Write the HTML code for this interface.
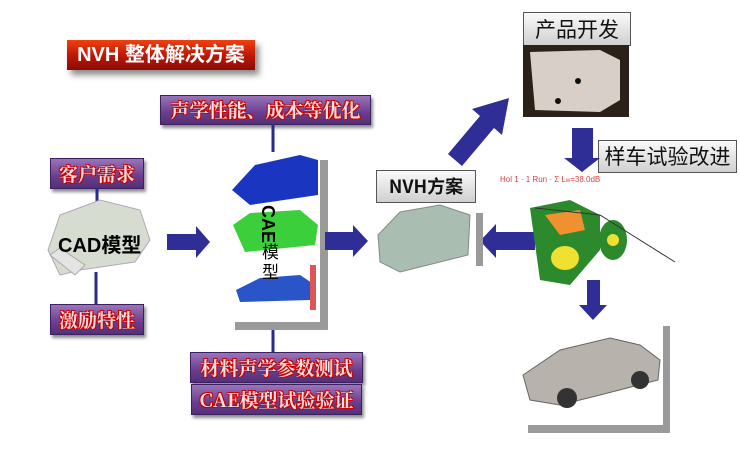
<!DOCTYPE html>
<html><head><meta charset="utf-8"><style>
html,body{margin:0;padding:0;background:#fff;}
body{width:740px;height:454px;overflow:hidden;position:relative;font-family:"Liberation Sans","Noto Sans CJK SC",sans-serif;}
.a{position:absolute;}
.p{position:absolute;background:linear-gradient(#9a74b8,#6a3e8e 60%,#553076);border:1px solid #3a2060;box-shadow:2px 3px 3px rgba(0,0,0,.45);color:#f3e0e0;font-family:"Noto Serif CJK SC",serif;font-weight:bold;text-align:center;text-shadow:1px 1px 0 #c00,-1px -1px 0 #c00,1px -1px 0 #c00,-1px 1px 0 #c00;}
.g{position:absolute;background:linear-gradient(#fafafa,#d0d0d0);border:1px solid #555;color:#111;text-align:center;font-family:"Noto Sans CJK SC",sans-serif;}
</style></head><body>
<div class="a" style="left:67px;top:40px;width:188px;height:30px;background:linear-gradient(#f04010,#c01808 50%,#8a0c04);box-shadow:4px 5px 6px rgba(0,0,0,.45);color:#fff;font-weight:bold;font-size:20px;line-height:30px;text-align:center;">NVH 整体解决方案</div>

<div class="p" style="left:160px;top:95px;width:209px;height:28px;font-size:19px;line-height:28px;">声学性能、成本等优化</div>
<div class="p" style="left:50px;top:158px;width:92px;height:29px;font-size:19px;line-height:29px;">客户需求</div>
<div class="p" style="left:50px;top:304px;width:92px;height:29px;font-size:19px;line-height:29px;">激励特性</div>
<div class="p" style="left:190px;top:352px;width:171px;height:29px;font-size:19px;line-height:29px;">材料声学参数测试</div>
<div class="p" style="left:191px;top:384px;width:169px;height:29px;font-size:19px;line-height:29px;">CAE模型试验验证</div>

<div class="g" style="left:523px;top:12px;width:106px;height:32px;font-size:21px;line-height:32px;">产品开发</div>
<div class="g" style="left:598px;top:140px;width:137px;height:31px;font-size:21px;line-height:31px;">样车试验改进</div>
<div class="g" style="left:376px;top:170px;width:98px;height:31px;font-size:18px;line-height:31px;font-weight:bold;">NVH方案</div>

<svg class="a" style="left:0;top:0" width="740" height="454">
<g stroke="#2a2a8a" stroke-width="3">
<line x1="273" y1="124" x2="273" y2="152"/><line x1="97" y1="188" x2="97" y2="212"/>
<line x1="96" y1="272" x2="96" y2="304"/><line x1="273" y1="330" x2="273" y2="352"/>
</g>
<!-- CAD car -->
<path d="M48 250 L60 215 L100 200 L140 210 L150 240 L135 262 L80 270 L60 275 Z" fill="#d6dccf" stroke="#b0a8b8"/>
<path d="M50 255 L75 275 L85 265 L60 248Z" fill="#e4e4e4" stroke="#aaa"/>
<text x="58" y="252" font-size="20" font-weight="bold" font-family="Liberation Sans,Noto Sans CJK SC,sans-serif">CAD模型</text>
<!-- CAE frames -->
<rect x="320" y="160" width="8" height="170" fill="#9a9a9a"/><rect x="235" y="322" width="93" height="8" fill="#9a9a9a"/>
<path d="M232 190 L255 165 L300 155 L318 160 L318 195 L250 205 Z" fill="#1a35c0"/>
<path d="M233 225 L250 213 L300 210 L318 225 L315 245 L245 252 Z" fill="#3ccf3c"/>
<path d="M236 290 L260 278 L300 275 L315 285 L310 300 L240 302Z" fill="#2a55c8"/>
<rect x="310" y="265" width="6" height="45" fill="#d55"/>
<text transform="translate(262,205) rotate(90)" font-size="18" font-weight="bold">CAE</text>
<text x="262" y="258" font-size="17" font-family="Noto Sans CJK SC,sans-serif">模</text>
<text x="262" y="278" font-size="17" font-family="Noto Sans CJK SC,sans-serif">型</text>
<!-- arrows -->
<g fill="#2e2e96">
<path d="M167 234 L196 234 L196 226 L210 242 L196 258 L196 250 L167 250Z"/>
<path d="M325 232 L353 232 L353 225 L368 241 L353 257 L353 250 L325 250Z"/>
<path d="M535 232 L496 232 L496 224 L480 241 L496 258 L496 250 L535 250Z"/>
<path d="M572 128 L593 128 L593 158 L600 158 L582 172 L564 158 L572 158Z"/>
<path d="M587 280 L600 280 L600 305 L607 305 L593 320 L579 305 L587 305Z"/>
<path d="M448 154 L480 116 L472 109 L509 98 L502 135 L494 128 L462 166Z"/>
</g>
<!-- NVH car -->
<rect x="476" y="213" width="7" height="53" fill="#9a9a9a"/>
<path d="M378 235 L400 212 L440 205 L470 215 L468 255 L400 272 L380 262Z" fill="#a9bdb0" stroke="#888"/>
<!-- product photo -->
<rect x="523" y="45" width="106" height="72" fill="#2a2218"/>
<path d="M530 52 L600 50 L620 60 L620 100 L600 112 L535 110Z" fill="#d8d0c8"/>
<circle cx="578" cy="81" r="3" fill="#111"/><circle cx="558" cy="101" r="3" fill="#111"/>
<text x="500" y="182" font-size="8" fill="#e04040">Hol 1 · 1 Run · Σ L<tspan font-size="6">w</tspan>=38.0dB</text>
<!-- contour -->
<path d="M530 208 L570 200 L600 215 L600 250 L570 285 L540 280Z" fill="#2c8a2c"/>
<path d="M545 215 L580 210 L585 230 L560 235Z" fill="#f09030"/>
<ellipse cx="565" cy="258" rx="14" ry="12" fill="#f0e030"/>
<ellipse cx="613" cy="240" rx="14" ry="20" fill="#2c8a2c"/><circle cx="613" cy="240" r="6" fill="#f0e030"/>
<path d="M535 208 L600 215 L675 262" stroke="#333" fill="none"/>
<!-- cutaway car -->
<rect x="663" y="326" width="7" height="107" fill="#9a9a9a"/><rect x="528" y="425" width="142" height="8" fill="#9a9a9a"/>
<path d="M523 375 L560 350 L610 338 L640 345 L660 360 L658 380 L600 395 L560 405 L530 400Z" fill="#b8b2ac" stroke="#666"/>
<circle cx="567" cy="398" r="10" fill="#333"/><circle cx="640" cy="380" r="9" fill="#333"/>
</svg>
</body></html>
